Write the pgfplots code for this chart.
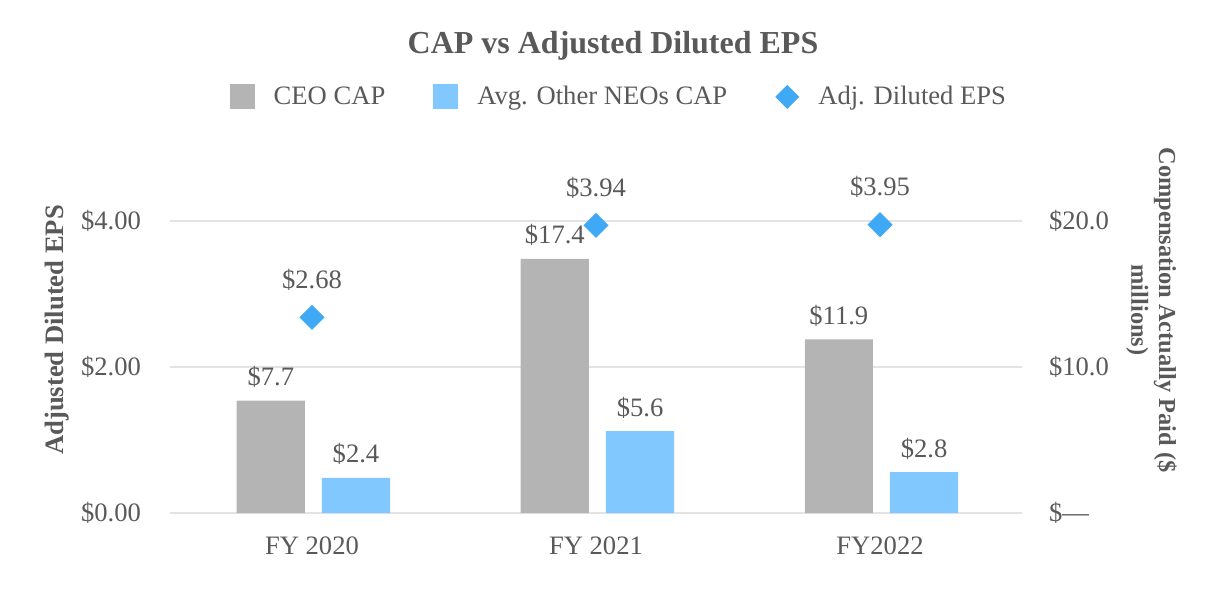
\documentclass[border=0pt]{standalone}
\usepackage{fontspec}
\setmainfont{Liberation Serif}
\usepackage{pgfplots}
\pgfplotsset{compat=1.18}

\definecolor{txt}{HTML}{595959}
\definecolor{ceo}{HTML}{B4B4B4}
\definecolor{neo}{HTML}{80C8FF}
\definecolor{eps}{HTML}{3FA9F5}
\definecolor{grd}{HTML}{E3E3E3}

\newcommand{\bodyfont}{\fontsize{13.3}{16}\selectfont}

\pgfplotsset{
  cap base/.style={
    at={(85pt,38.5pt)}, anchor=south west,
    scale only axis, width=426pt, height=146pt,
    xmin=-0.5, xmax=2.5, ymin=0,
    axis line style={draw=none}, major tick style={draw=none},
    clip=false,
    every tick label/.append style={text=txt, font=\bodyfont},
    /pgf/number format/assume math mode=true,
  }
}

\begin{document}
\begin{tikzpicture}
\useasboundingbox (0,0) rectangle (613pt,295pt);

% left axis: EPS diamonds, grid, x labels
\begin{axis}[cap base,
  ymax=4, ytick={0,2,4}, yticklabels={\$0.00,\$2.00,\$4.00},
  ymajorgrids, major grid style={grd, line width=0.9pt},
  xtick={0,1,2}, xticklabels={FY 2020,FY 2021,FY2022},
  x tick label style={yshift=-8.5pt},
  y tick label style={xshift=-11pt},
  title={CAP vs Adjusted Diluted EPS},
  title style={at={(axis description cs:0.52,1.603)}, anchor=center, yshift=-6.5pt,
    font=\fontsize{16}{19}\selectfont\bfseries, text=txt},
  ylabel={Adjusted Diluted EPS},
  every axis y label/.style={at={(axis description cs:-0.1326,0.627)},
    rotate=90, anchor=center, font=\bodyfont\bfseries, text=txt},
  nodes near coords={\$\pgfmathprintnumber[fixed,fixed zerofill,precision=2]{\pgfplotspointmeta}},
  nodes near coords style={text=txt, font=\bodyfont, yshift=10pt},
]
\addplot[only marks, mark=square*, mark size=4.25pt,
  mark options={rotate=45, fill=eps, draw=eps}] coordinates {
  (0,2.68) (1,3.94) (2,3.95)
};
\end{axis}

% right axis: compensation bars, legend
\begin{axis}[cap base,
  ymax=20, ytick={0,10,20}, yticklabels={\$---,\$10.0,\$20.0},
  yticklabel pos=right,
  y tick label style={anchor=west, xshift=10pt},
  xtick=\empty,
  ylabel={Compensation Actually Paid (\$\\millions)},
  every axis y label/.style={at={(axis description cs:1.152,0.695)},
    rotate=-90, anchor=center, align=center,
    font=\fontsize{12.2}{13.8}\selectfont\bfseries, text=txt},
  nodes near coords={\$\pgfmathprintnumber[fixed,fixed zerofill,precision=1]{\pgfplotspointmeta}},
  nodes near coords style={text=txt, font=\bodyfont, yshift=3pt},
  legend columns=3,
  legend style={at={(0.528,1.425)}, anchor=center, draw=none, fill=none,
    font=\bodyfont, text=txt,
    /tikz/every odd column/.append style={column sep=7.5pt},
    /tikz/every even column/.append style={column sep=22pt}},
]
\addplot[ybar, bar width=0.24, bar shift=0pt, fill=ceo, draw=none,
  legend image code/.code={\fill[ceo] (0pt,-6.25pt) rectangle (12.5pt,6.25pt);}]
  coordinates {(-0.145,7.7) (0.855,17.4) (1.855,11.9)};
\addlegendentry{CEO CAP}
\addplot[ybar, bar width=0.24, bar shift=0pt, fill=neo, draw=none,
  legend image code/.code={\fill[neo] (0pt,-6.25pt) rectangle (12.5pt,6.25pt);}]
  coordinates {(0.155,2.4) (1.155,5.6) (2.155,2.8)};
\addlegendentry{Avg. Other NEOs CAP}
\addlegendimage{legend image code/.code={\node[fill=eps, minimum size=8.5pt,
  inner sep=0pt, rotate=45] at (6.25pt,0pt) {};}}
\addlegendentry{Adj. Diluted EPS}
\end{axis}
\end{tikzpicture}
\end{document}
